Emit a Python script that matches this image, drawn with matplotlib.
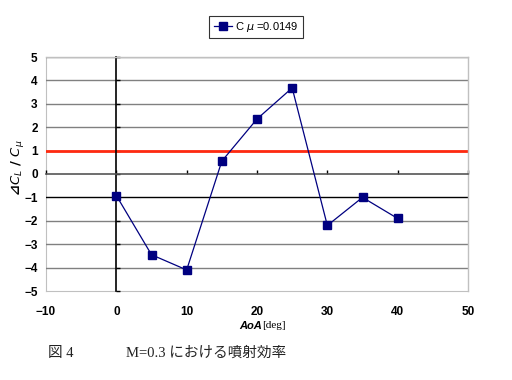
import numpy as np
import matplotlib
matplotlib.use('Agg')
import matplotlib.pyplot as plt

# --- data ---
aoa = [0, 5, 10, 15, 20, 25, 30, 35, 40]
eff = [-0.92, -3.45, -4.1, 0.55, 2.35, 3.68, -2.2, -1.0, -1.9]
series_label = r'C $\mu$ =0.0149'
ref_level = 1.0
xticks = [-10, 0, 10, 20, 30, 40, 50]
yticks = [-5, -4, -3, -2, -1, 0, 1, 2, 3, 4, 5]

plt.rcParams['font.family'] = ['Liberation Sans', 'DejaVu Sans']

fig = plt.figure(figsize=(5.12, 3.8), dpi=100)
ax = fig.add_axes([46 / 512, 1 - 291 / 380, 422 / 512, 234 / 380])
ax.set_xlim(xticks[0], xticks[-1])
ax.set_ylim(yticks[0], yticks[-1])

# grid lines (the -1 line renders black in the original)
for v in yticks:
    if v in (yticks[0], 0):
        continue
    col = 'black' if v == -1 else '#808080'
    ax.axhline(v, color=col, lw=1.0, zorder=1)

# axes crossing at zero, ticks pointing inward
ax.spines['left'].set_position(('data', 0))
ax.spines['bottom'].set_position(('data', 0))
ax.spines['left'].set_color('black')
ax.spines['left'].set_linewidth(1.2)
ax.spines['bottom'].set_color('#555555')
ax.spines['bottom'].set_linewidth(1.2)
for s in ('top', 'right'):
    ax.spines[s].set_color('#c0c0c0')
    ax.spines[s].set_linewidth(1.0)
ax.set_xticks(xticks)
ax.set_yticks(yticks)
ax.tick_params(axis='x', direction='in', length=3, width=1, color='black',
               labelbottom=False)
ax.tick_params(axis='y', direction='in', length=3, width=1, color='black',
               labelleft=False)

# tick labels on the plot-area edges
secx = ax.secondary_xaxis('bottom')
secx.set_xticks(xticks)
secx.tick_params(length=0, pad=11, labelsize=8.5)
secx.spines['bottom'].set_color('#c0c0c0')
secy = ax.secondary_yaxis('left')
secy.set_yticks(yticks)
secy.tick_params(length=0, pad=6, labelsize=8.5)
secy.spines['left'].set_color('#c0c0c0')
for lab in secx.get_xticklabels() + secy.get_yticklabels():
    lab.set_fontweight('bold')

ax.axhline(ref_level, color='#ff2a10', lw=2.0, zorder=2)
ax.plot(aoa, eff, color='#000080', lw=0.9, marker='s', markersize=6,
        markerfacecolor='#000080', markeredgecolor='#000080',
        label=series_label, zorder=3)

leg = fig.legend(loc='center', bbox_to_anchor=(256 / 512, 1 - 27 / 380),
                 fontsize=8, frameon=True, fancybox=False, handlelength=1.6,
                 handletextpad=0.3, borderpad=0.4, markerscale=0.9)
leg.get_frame().set_edgecolor('black')
leg.get_frame().set_linewidth(0.8)

fig.text(18 / 512, 1 - 168 / 380, r'⊿$C_L$ / $C_\mu$', rotation=90,
         ha='center', va='center', fontsize=9.5, fontweight='bold',
         family=['DejaVu Sans', 'Noto Sans CJK JP'])

fig.text(262 / 512, 1 - 326 / 380, 'AoA', ha='right', va='center',
         fontsize=8, fontweight='bold', fontstyle='italic')
fig.text(262 / 512, 1 - 326 / 380, '[deg]', ha='left', va='center',
         fontsize=8, family=['Liberation Serif'])

cap_font = ['Liberation Serif', 'Noto Sans CJK JP']
fig.text(48 / 512, 1 - 353 / 380, '図 4', ha='left', va='center',
         fontsize=10.5, family=cap_font, color='#222222')
fig.text(126 / 512, 1 - 353 / 380, 'M=0.3 における噴射効率', ha='left',
         va='center', fontsize=10.5, family=cap_font, color='#222222')

fig.savefig('out.png', dpi=100)
